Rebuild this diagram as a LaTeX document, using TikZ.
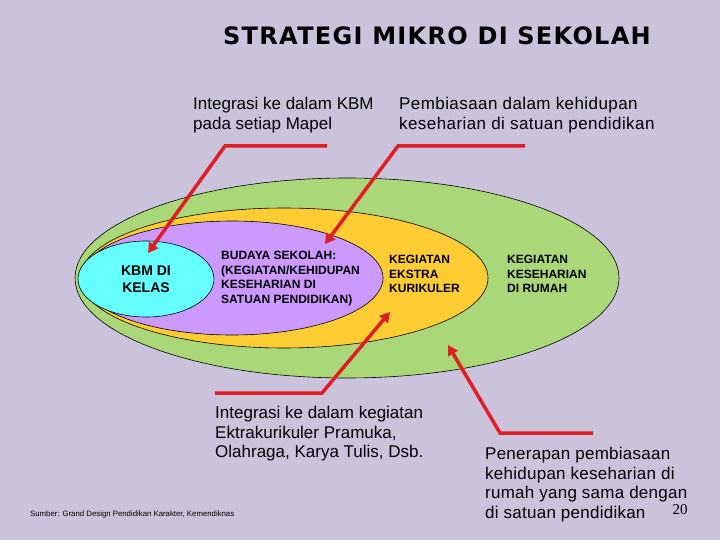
\documentclass[tikz,border=0pt]{standalone}
\usepackage{fontspec}
\setmainfont{Liberation Sans}
\newfontfamily\titlefont[LetterSpace=5.5]{DejaVu Sans}
\newfontfamily\numfont{Liberation Serif}
\newfontfamily\wideA[LetterSpace=2.5]{Liberation Sans}
\newfontfamily\wideB[LetterSpace=1.5]{Liberation Sans}
\usetikzlibrary{arrows.meta,shapes.geometric}
\definecolor{bgc}{RGB}{203,195,220}
\definecolor{greenc}{RGB}{170,216,120}
\definecolor{yellowc}{RGB}{255,204,51}
\definecolor{purplec}{RGB}{204,153,255}
\definecolor{cyanc}{RGB}{102,255,255}
\definecolor{redc}{RGB}{222,30,36}
\tikzset{
  ring/.style={ellipse,draw=black,line width=0.6pt,inner sep=0pt},
  arr/.style={draw=redc,line width=3.5pt,-{Triangle[length=10pt,width=11pt]}},
  lbl/.style={align=left,anchor=north west,inner sep=0pt,font=\fontsize{17}{19.5}\selectfont},
  inlbl/.style={align=left,anchor=north west,inner sep=0pt,font=\bfseries\fontsize{12}{14.5}\selectfont},
}
\begin{document}
\begin{tikzpicture}[x=1pt,y=-1pt]
\useasboundingbox[fill=bgc] (0,0) rectangle (720,540);
% rings
\node[ring,fill=greenc,minimum width=544pt,minimum height=200pt] (green) at (347,278) {};
\node[ring,fill=yellowc,minimum width=408pt,minimum height=140pt] (yellow) at (284,278) {};
\node[ring,fill=purplec,minimum width=302pt,minimum height=114pt] (purple) at (232,278) {};
\node[ring,fill=cyanc,minimum width=136pt,minimum height=76pt] (cyan) at (146,279) {};
% title
\node[font=\titlefont\bfseries\fontsize{24}{27}\selectfont,inner sep=0pt] (title) at (437,36) {STRATEGI MIKRO DI SEKOLAH};
% top labels
\node[lbl] (t1) at (193,97) {Integrasi ke dalam KBM\\pada setiap Mapel};
\node[lbl,font=\wideA\fontsize{17}{19.5}\selectfont] (t2) at (399,97) {Pembiasaan dalam kehidupan\\keseharian di satuan pendidikan};
% inner labels
\node[font=\bfseries\fontsize{14}{17}\selectfont,align=center,inner sep=0pt] (kbm) at (146,279) {KBM DI\\KELAS};
\node[inlbl] (bud) at (221,251) {BUDAYA SEKOLAH:\\(KEGIATAN/KEHIDUPAN\\KESEHARIAN DI\\SATUAN PENDIDIKAN)};
\node[inlbl] (eks) at (389,255) {KEGIATAN\\EKSTRA\\KURIKULER};
\node[inlbl] (rum) at (507,255) {KEGIATAN\\KESEHARIAN\\DI RUMAH};
% bottom labels
\node[lbl] (b1) at (215,406) {Integrasi ke dalam kegiatan\\Ektrakurikuler Pramuka,\\Olahraga, Karya Tulis, Dsb.};
\node[lbl,font=\wideB\fontsize{17}{19.5}\selectfont] (b2) at (485,447) {Penerapan pembiasaan\\kehidupan keseharian di\\rumah yang sama dengan\\di satuan pendidikan};
\node[font=\numfont\fontsize{15}{16}\selectfont,inner sep=0pt] (num) at (680,510) {20};
\node[font=\fontsize{7.8}{9}\selectfont,anchor=west,inner sep=0pt] (src) at (30,514) {Sumber: Grand Design Pendidikan Karakter, Kemendiknas};
% arrow coordinates
\coordinate (a1s) at (327,146); \coordinate (a1b) at (225,146); \coordinate (a1e) at (148,253);
\coordinate (a2s) at (525,146); \coordinate (a2b) at (398,146); \coordinate (a2e) at (325,244);
\coordinate (a3s) at (215,393); \coordinate (a3b) at (322,393); \coordinate (a3e) at (390,312);
\coordinate (a4s) at (593,433); \coordinate (a4b) at (500,433); \coordinate (a4e) at (448,345);
\draw[arr] (a1s) -- (a1b) -- (a1e);
\draw[arr] (a2s) -- (a2b) -- (a2e);
\draw[arr] (a3s) -- (a3b) -- (a3e);
\draw[arr] (a4s) -- (a4b) -- (a4e);
\end{tikzpicture}
\end{document}
